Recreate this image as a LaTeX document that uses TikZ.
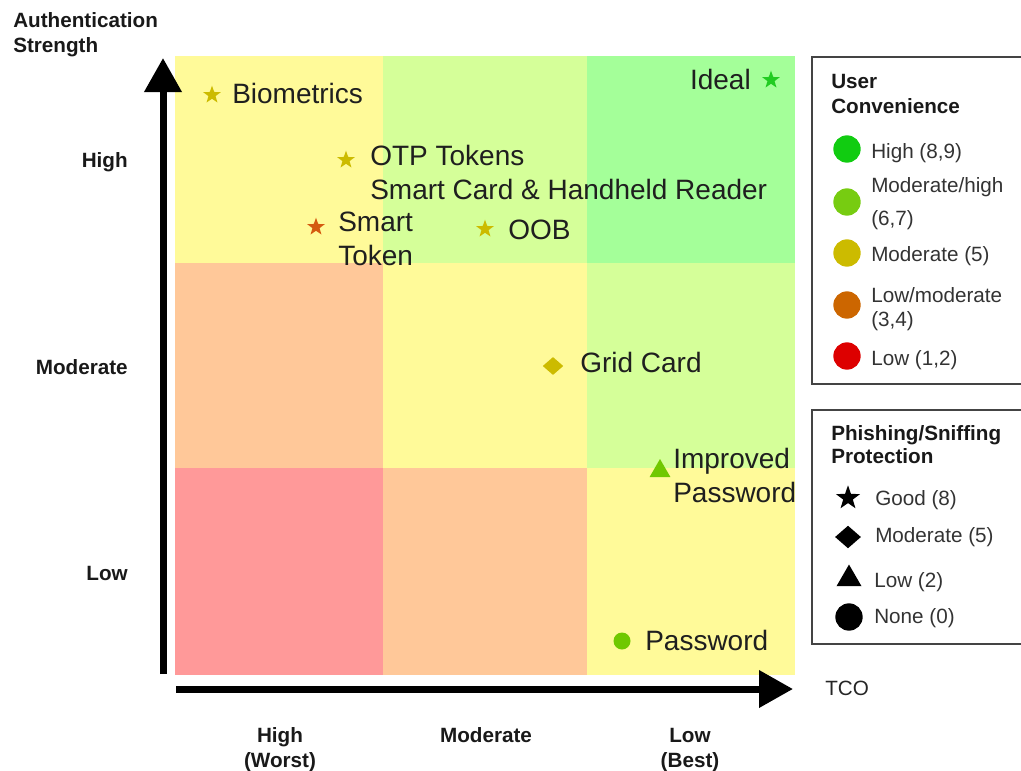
\documentclass[tikz,border=0pt]{standalone}
\usepackage{fontspec}
\setmainfont{Liberation Sans}
\usetikzlibrary{shapes.geometric,arrows.meta}

% quadrant fills
\definecolor{cellY}{HTML}{FFFA99}
\definecolor{cellLG}{HTML}{D5FF99}
\definecolor{cellG}{HTML}{A4FF99}
\definecolor{cellP}{HTML}{FFC899}
\definecolor{cellR}{HTML}{FF9999}
% marker colours
\definecolor{mkYellow}{HTML}{CCBB00}
\definecolor{mkOrange}{HTML}{D45A10}
\definecolor{mkGreen}{HTML}{22CC22}
\definecolor{mkLime}{HTML}{70C800}
% legend colours
\definecolor{lgHigh}{HTML}{11CC11}
\definecolor{lgModHigh}{HTML}{77CC11}
\definecolor{lgMod}{HTML}{CCBB00}
\definecolor{lgLowMod}{HTML}{CC6600}
\definecolor{lgLow}{HTML}{DD0000}
\definecolor{boxline}{HTML}{444444}

\tikzset{
  bigtext/.style={font=\fontsize{21}{25.5}\selectfont, text=black!88, inner sep=0pt, align=left},
  axislabel/.style={font=\fontsize{15.5}{18.75}\selectfont\bfseries, text=black!90, inner sep=0pt, align=center},
  legtitle/.style={font=\fontsize{15.5}{18.75}\selectfont\bfseries, text=black!90, inner sep=0pt, align=left},
  legtext/.style={font=\fontsize{15.5}{18}\selectfont, text=black!80, inner sep=0pt, align=left},
  starmark/.style={star, star points=5, star point ratio=2.5, inner sep=0pt, minimum size=14pt, draw=none},
  diamondmark/.style={diamond, inner sep=0pt, minimum width=15.5pt, minimum height=13.5pt, draw=none},
  trimark/.style={regular polygon, regular polygon sides=3, inner sep=0pt, minimum size=18pt, draw=none},
  dotmark/.style={circle, inner sep=0pt, minimum size=12.75pt, draw=none},
  legdot/.style={circle, inner sep=0pt, minimum size=20.5pt, draw=none},
  legstar/.style={starmark, minimum size=19pt, fill=black},
  legdiamond/.style={diamondmark, minimum width=19.5pt, minimum height=17pt, fill=black},
  legtri/.style={trimark, minimum size=21.7pt, fill=black},
  legbox/.style={draw=boxline, line width=1.5pt},
  axisarrow/.style={line width=5.25pt, -{Triangle[length=25.5pt 0, width=27pt 0]}}
}

\begin{document}
\begin{tikzpicture}[x=0.75pt, y=-0.75pt]
\useasboundingbox (0,0) rectangle (1021,771);

% quadrant grid
\fill[cellY]  (175,56)  rectangle (383,263);
\fill[cellLG] (383,56)  rectangle (587,263);
\fill[cellG]  (587,56)  rectangle (795,263);
\fill[cellP]  (175,263) rectangle (383,468);
\fill[cellY]  (383,263) rectangle (587,468);
\fill[cellLG] (587,263) rectangle (795,468);
\fill[cellR]  (175,468) rectangle (383,675);
\fill[cellP]  (383,468) rectangle (587,675);
\fill[cellY]  (587,468) rectangle (795,675);

% axes
\coordinate (ybot) at (163,674);
\coordinate (ytop) at (163,58);
\coordinate (xleft) at (176,689);
\coordinate (xright) at (793,689);
\draw[axisarrow] (ybot) -- (ytop);
\draw[axisarrow] (xleft) -- (xright);

% axis labels (multi-line nodes are placed by their last baseline)
\node[axislabel, anchor=base west, align=left] (ylab) at (13,52) {Authentication\\Strength};
\node[axislabel, anchor=base east] (yhigh) at (128,167) {High};
\node[axislabel, anchor=base east] (ymod) at (128,374) {Moderate};
\node[axislabel, anchor=base east] (ylow) at (128,580) {Low};
\node[axislabel, anchor=base] (xhigh) at (280,767) {High\\(Worst)};
\node[axislabel, anchor=base] (xmod) at (486,742) {Moderate};
\node[axislabel, anchor=base] (xlow) at (690,767) {Low\\(Best)};
\node[font=\fontsize{15.5}{18}\selectfont, text=black!85, inner sep=0pt, anchor=base west] (tco) at (825,695) {TCO};

% plotted methods
\node[starmark, fill=mkYellow] (bio) at (212,95) {};
\node[bigtext, anchor=base west] (biol) at (232,103) {Biometrics};
\node[starmark, fill=mkYellow] (otp) at (346,160) {};
\node[bigtext, anchor=base west] (otpl) at (370,199) {OTP Tokens\\Smart Card \& Handheld Reader};
\node[starmark, fill=mkOrange] (smt) at (316,227) {};
\node[bigtext, anchor=base west] (smtl) at (338,265) {Smart\\Token};
\node[starmark, fill=mkYellow] (oob) at (485,229) {};
\node[bigtext, anchor=base west] (oobl) at (508,239) {OOB};
\node[starmark, fill=mkGreen] (ideal) at (771,80) {};
\node[bigtext, anchor=base east] (ideall) at (751,89) {Ideal};
\node[diamondmark, fill=mkYellow] (grid) at (553,366) {};
\node[bigtext, anchor=base west] (gridl) at (580,372) {Grid Card};
\node[trimark, fill=mkLime] (ipw) at (660,471) {};
\node[bigtext, anchor=base west] (ipwl) at (673,502) {Improved\\Password};
\node[dotmark, fill=mkLime] (pw) at (622,641) {};
\node[bigtext, anchor=base west] (pwl) at (645,650) {Password};

% legend: user convenience
\draw[legbox] (1025,57) -| (812,384) -- (1025,384);
\node[legtitle, anchor=base west] (uct) at (831,113) {User\\Convenience};
\node[legdot, fill=lgHigh] (uc1) at (847,149) {};
\node[legtext, anchor=base west] (uc1l) at (871,158) {High (8,9)};
\node[legdot, fill=lgModHigh] (uc2) at (847,202) {};
\node[legtext, anchor=base west] (uc2l) at (871,225) {Moderate/high\\[6.75pt](6,7)};
\node[legdot, fill=lgMod] (uc3) at (847,253) {};
\node[legtext, anchor=base west] (uc3l) at (871,261) {Moderate (5)};
\node[legdot, fill=lgLowMod] (uc4) at (847,305) {};
\node[legtext, anchor=base west] (uc4l) at (871,326) {Low/moderate\\(3,4)};
\node[legdot, fill=lgLow] (uc5) at (847,356) {};
\node[legtext, anchor=base west] (uc5l) at (871,365) {Low (1,2)};

% legend: phishing/sniffing protection
\draw[legbox] (1025,410) -| (812,644) -- (1025,644);
\node[legtitle, anchor=base west] (ppt) at (831,463) {Phishing/Sniffing\\[-1.5pt]Protection};
\node[legstar] (pp1) at (848,498) {};
\node[legtext, anchor=base west] (pp1l) at (875,505) {Good (8)};
\node[legdiamond] (pp2) at (848,537) {};
\node[legtext, anchor=base west] (pp2l) at (875,542) {Moderate (5)};
\node[legtri] (pp3) at (849,579) {};
\node[legtext, anchor=base west] (pp3l) at (874,587) {Low (2)};
\node[legdot, fill=black] (pp4) at (849,617) {};
\node[legtext, anchor=base west] (pp4l) at (874,623) {None (0)};
\end{tikzpicture}
\end{document}
